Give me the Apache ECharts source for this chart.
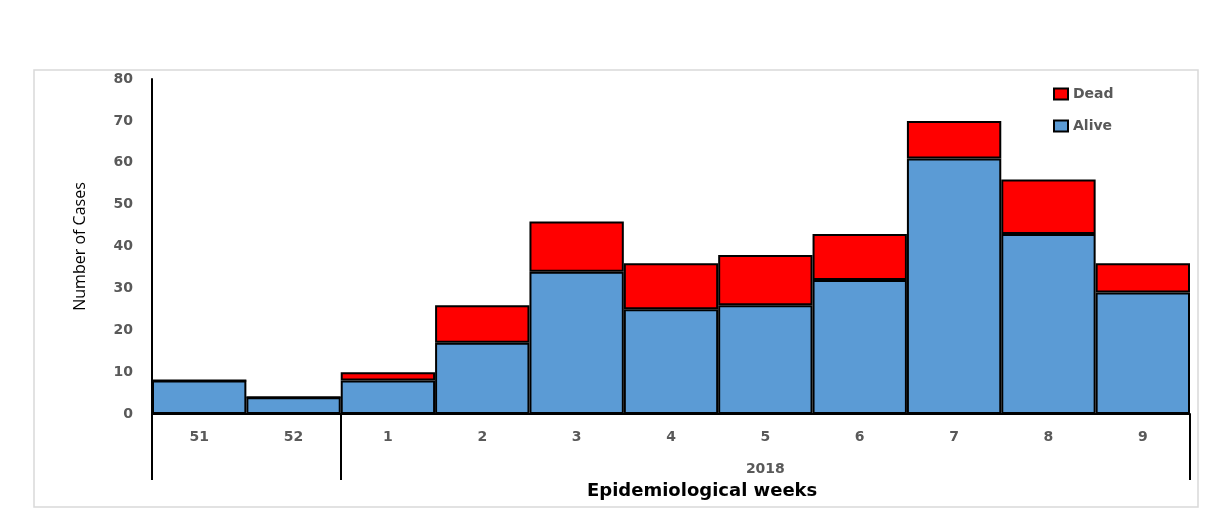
<!DOCTYPE html>
<html>
<head>
<meta charset="utf-8">
<script src="https://cdn.jsdelivr.net/npm/echarts@6/dist/echarts.min.js"></script>
<style>
  html, body { margin: 0; padding: 0; background: #fff; }
  #chart { width: 1222px; height: 521px; }
</style>
</head>
<body>
<div id="chart"></div>
<script>
// weeks 51-52 of 2017, then weeks 1-9 of 2018
const weeks = ['51', '52', '1', '2', '3', '4', '5', '6', '7', '8', '9']
const alive = [8, 4, 8, 17, 34, 25, 26, 32, 61, 43, 29]
const dead = [0, 0, 2, 9, 12, 11, 12, 11, 9, 13, 7]
// second label row: the year sits under the middle of weeks 1-9
const yearRow = ['', '', '', '', '', '', '2018', '', '', '', '']
const yTicks = { min: 0, max: 80, step: 10 }

const chart = echarts.init(document.getElementById('chart'))

const labelFont = 'DejaVu Sans'
const gray = '#595959'

const option = {
  animation: false,
  grid: { left: 152, right: 32, top: 79, bottom: 107 },
  legend: {
    data: ['Dead', 'Alive'],
    orient: 'vertical',
    left: 1048,
    top: 82,
    icon: 'rect',
    itemWidth: 14,
    itemHeight: 11,
    itemGap: 18,
    textStyle: { color: gray, fontFamily: labelFont, fontWeight: 'bold', fontSize: 14 }
  },
  xAxis: [
    {
      type: 'category',
      data: weeks,
      position: 'bottom',
      axisLine: { lineStyle: { color: '#000', width: 2 } },
      axisTick: {
        show: true,
        length: 66,
        interval: (i) => i === 0 || i === 2,
        lineStyle: { color: '#000', width: 2 }
      },
      axisLabel: {
        color: gray, fontFamily: labelFont, fontWeight: 'bold', fontSize: 14, margin: 16
      }
    },
    {
      type: 'category',
      data: yearRow,
      position: 'bottom',
      axisLine: { show: false },
      axisTick: { show: false },
      axisLabel: {
        interval: 0,
        color: gray, fontFamily: labelFont, fontWeight: 'bold', fontSize: 14, margin: 48
      }
    }
  ],
  yAxis: {
    type: 'value',
    min: yTicks.min,
    max: yTicks.max,
    interval: yTicks.step,
    name: 'Number of Cases',
    nameLocation: 'middle',
    nameGap: 64,
    nameRotate: 90,
    nameTextStyle: { color: '#000', fontFamily: 'Open Sans', fontSize: 16 },
    axisLine: { show: true, lineStyle: { color: '#000', width: 2 } },
    axisTick: { show: false },
    splitLine: { show: false },
    axisLabel: { color: gray, fontFamily: labelFont, fontWeight: 'bold', fontSize: 14, margin: 19 }
  },
  series: [
    {
      name: 'Alive',
      type: 'bar',
      stack: 'cases',
      data: alive,
      barCategoryGap: 0,
      itemStyle: { color: '#5B9BD5', borderColor: '#000', borderWidth: 2 }
    },
    {
      name: 'Dead',
      type: 'bar',
      stack: 'cases',
      data: dead,
      barCategoryGap: 0,
      itemStyle: { color: '#FF0000', borderColor: '#000', borderWidth: 2 }
    }
  ],
  graphic: [
    {
      type: 'rect',
      shape: { x: 34, y: 70, width: 1164, height: 437 },
      style: { fill: 'none', stroke: '#d9d9d9', lineWidth: 1.5 },
      z: -1
    },
    {
      type: 'text',
      left: 587,
      top: 482,
      style: { text: 'Epidemiological weeks', fill: '#000', font: 'bold 18px "DejaVu Sans"' }
    }
  ]
}

chart.setOption(option)
</script>
</body>
</html>
